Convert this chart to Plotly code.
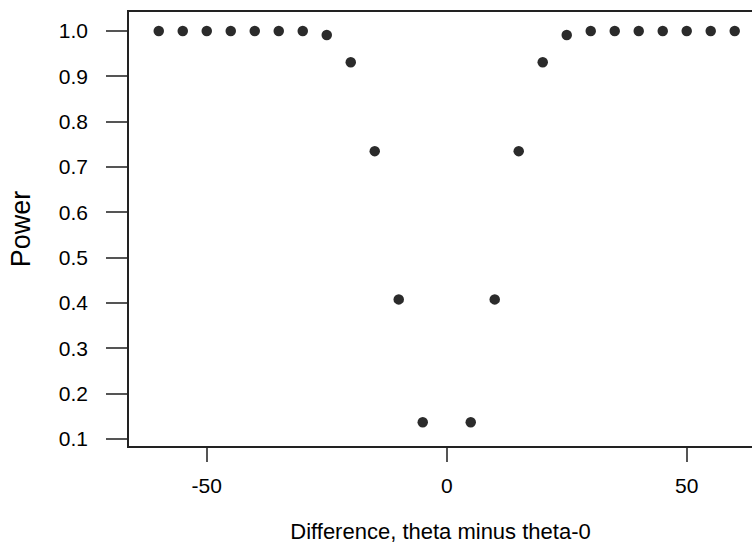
import plotly.graph_objects as go

difference = [-60, -55, -50, -45, -40, -35, -30, -25, -20, -15, -10, -5,
              5, 10, 15, 20, 25, 30, 35, 40, 45, 50, 55, 60]
power = [1.0, 1.0, 1.0, 1.0, 1.0, 1.0, 1.0, 0.991, 0.931, 0.735, 0.408, 0.137,
         0.137, 0.408, 0.735, 0.931, 0.991, 1.0, 1.0, 1.0, 1.0, 1.0, 1.0, 1.0]

x_ticks = [-50, 0, 50]
y_ticks = [0.1, 0.2, 0.3, 0.4, 0.5, 0.6, 0.7, 0.8, 0.9, 1.0]

FONT = "Liberation Sans, Arial, sans-serif"

fig = go.Figure(go.Scatter(
    x=difference, y=power, mode="markers",
    marker=dict(size=10.5, color="#2b2b2b", line=dict(width=0)),
    hoverinfo="x+y",
))

fig.update_layout(
    width=752, height=547,
    margin=dict(l=129, r=0, t=12, b=101),
    paper_bgcolor="white", plot_bgcolor="white",
    showlegend=False,
    font=dict(family=FONT, color="black"),
    xaxis=dict(
        range=[-66.2, 63.6], tickvals=x_ticks, ticktext=[str(v) for v in x_ticks],
        showgrid=False, zeroline=False,
        showline=True, linecolor="#222", linewidth=1.5, mirror=True,
        ticks="outside", ticklen=14, tickwidth=1.5, tickcolor="#555",
        tickfont=dict(size=21), ticklabelstandoff=6,
        title=dict(text="Difference, theta minus theta-0", font=dict(size=22), standoff=28),
    ),
    yaxis=dict(
        range=[0.0846, 1.0419], tickvals=y_ticks, ticktext=[f"{v:.1f}" for v in y_ticks],
        showgrid=False, zeroline=False,
        showline=True, linecolor="#222", linewidth=1.5,
        ticks="outside", ticklen=21, tickwidth=1.5, tickcolor="#555",
        tickfont=dict(size=21), ticklabelstandoff=14,
        title=dict(text="Power", font=dict(size=27), standoff=20),
    ),
)

fig.write_html("out.html", config={"displayModeBar": False},
               post_script="document.body.style.margin='0px';document.body.style.overflow='hidden';")
